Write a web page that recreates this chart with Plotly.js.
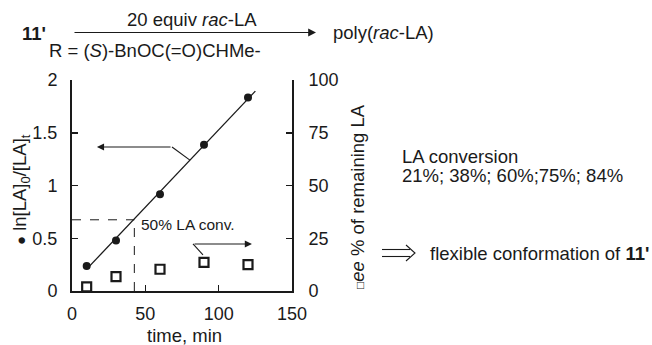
<!DOCTYPE html>
<html><head><meta charset="utf-8">
<script src="https://cdn.plot.ly/plotly-3.0.1.min.js"></script>
<style>body{margin:0;background:#fff}</style>
</head><body><div id="chart" style="width:652px;height:345px"></div>
<script>
// ---- data ----
const timeMin = [10, 30, 60, 90, 120];
const lnRatio = [0.236, 0.478, 0.916, 1.386, 1.833];
const eePercent = [2.0, 6.8, 10.3, 13.6, 12.5];
const fitTime = [10, 125];
const fitLn = [0.207, 1.895];
const xTicks = [0, 50, 100, 150];
const yTicks = [0, 0.5, 1, 1.5, 2];
const yTickText = ['0', '0.5', '1', '1.5', '2'];
const y2Ticks = [0, 25, 50, 75, 100];
const halfConvTime = 42.5;
const halfConvLn = 0.675;
const conversionText = '21%; 38%; 60%;75%; 84%';

// ---- layout helpers (pixel -> paper) ----
const L = 72, R = 292, T = 80, B = 291;
const X = p => (p - L) / (R - L);
const Y = p => (B - p) / (B - T);
const FONT = '"Liberation Sans", Arial, Helvetica, sans-serif';
const INK = '#1a1a1a';
const FS = 18.5;

const traces = [
  {x: fitTime, y: fitLn, mode: 'lines', line: {color: INK, width: 1.3}, hoverinfo: 'skip'},
  {x: timeMin, y: lnRatio, mode: 'markers', marker: {symbol: 'circle', size: 8, color: INK}},
  {x: timeMin, y: eePercent, yaxis: 'y2', mode: 'markers',
   marker: {symbol: 'square-open', size: 9, color: INK, line: {width: 2.2, color: INK}}}
];

function txt(text, px, py, opts) {
  return Object.assign({text, xref: 'paper', yref: 'paper', x: X(px), y: Y(py),
    showarrow: false, xanchor: 'left', yanchor: 'middle',
    font: {family: FONT, size: FS, color: INK}}, opts || {});
}

const annotations = [
  txt("<b>11'</b>", 34, 33, {xanchor: 'center'}),
  txt('20 equiv <i>rac</i>-LA', 192, 19, {xanchor: 'center'}),
  txt('R = (<i>S</i>)-BnOC(=O)CHMe-', 155, 50, {xanchor: 'center'}),
  txt('poly(<i>rac</i>-LA)', 331, 32),
  {text: '', xref: 'paper', yref: 'paper', x: X(316), y: Y(32.5), ax: -(316 - 73), ay: 0,
   axref: 'pixel', ayref: 'pixel', showarrow: true, arrowhead: 2, arrowsize: 1.3, arrowwidth: 1.2, arrowcolor: INK},
  txt('50% LA conv.', 139, 224, {font: {family: FONT, size: 15.5, color: INK}}),
  txt('LA conversion', 400, 156),
  txt(conversionText, 400, 175),
  txt("flexible conformation of <b>11'</b>", 428, 253),
  txt('time, min', 184, 335, {xanchor: 'center'}),
  txt('<span style="font-size:15px">\u25CF</span> ln[LA]<sub>0</sub>/[LA]<sub>t</sub>', 21, 190, {xanchor: 'center', textangle: -90}),
  txt('<span style="font-size:12px">\u25A1</span><i>ee</i> % of remaining LA', 357, 197, {xanchor: 'center', textangle: -90}),
  // pointer arrows
  {text: '', xref: 'x', yref: 'y', x: 17, y: 1.365, ax: 68.2, ay: 1.365, axref: 'x', ayref: 'y',
   showarrow: true, arrowhead: 2, arrowsize: 1.3, arrowwidth: 1.1, arrowcolor: INK},
  {text: '', xref: 'x', yref: 'y2', x: 122.7, y: 22.3, ax: 82.5, ay: 22.3, axref: 'x', ayref: 'y2',
   showarrow: true, arrowhead: 2, arrowsize: 1.3, arrowwidth: 1.1, arrowcolor: INK}
];

const shapes = [
  {type: 'line', xref: 'x', yref: 'y', x0: 0, x1: halfConvTime, y0: halfConvLn, y1: halfConvLn,
   line: {color: INK, width: 1, dash: 'dash'}},
  {type: 'line', xref: 'x', yref: 'y', x0: halfConvTime, x1: halfConvTime, y0: 0, y1: halfConvLn,
   line: {color: INK, width: 1, dash: 'dash'}},
  {type: 'line', xref: 'x', yref: 'y', x0: 68.2, x1: 80.4, y0: 1.365, y1: 1.24, line: {color: INK, width: 1.1}},
  {type: 'line', xref: 'x', yref: 'y2', x0: 82.5, x1: 89.3, y0: 22.3, y1: 17.1, line: {color: INK, width: 1.1}},
  // double arrow (implies) glyph
  {type: 'line', xref: 'paper', yref: 'paper', x0: X(382), x1: X(410), y0: Y(249.5), y1: Y(249.5), line: {color: INK, width: 1.1}},
  {type: 'line', xref: 'paper', yref: 'paper', x0: X(382), x1: X(410), y0: Y(256.5), y1: Y(256.5), line: {color: INK, width: 1.1}},
  {type: 'path', xref: 'paper', yref: 'paper',
   path: `M ${X(406)} ${Y(245)} L ${X(415)} ${Y(253)} L ${X(406)} ${Y(261)}`, line: {color: INK, width: 1.1}}
];

const axisCommon = {showgrid: false, zeroline: false, showline: true, linecolor: INK, linewidth: 2,
  ticks: 'inside', ticklen: 6, tickwidth: 1.5, tickcolor: INK,
  tickfont: {family: FONT, size: 18, color: INK}, fixedrange: true};

const layout = {
  width: 652, height: 345, margin: {l: L, r: 652 - R, t: T, b: 345 - B, pad: 0},
  paper_bgcolor: '#fff', plot_bgcolor: '#fff', showlegend: false,
  xaxis: Object.assign({}, axisCommon, {range: [0, 150], tickvals: xTicks, ticklabelstandoff: 5}),
  yaxis: Object.assign({}, axisCommon, {range: [0, 2], tickvals: yTicks, ticktext: yTickText, ticklabelstandoff: 9}),
  yaxis2: Object.assign({}, axisCommon, {range: [0, 100], tickvals: y2Ticks, overlaying: 'y', side: 'right', ticklabelstandoff: 11}),
  annotations, shapes
};

Plotly.newPlot('chart', traces, layout, {staticPlot: true, displayModeBar: false});
</script></body></html>
